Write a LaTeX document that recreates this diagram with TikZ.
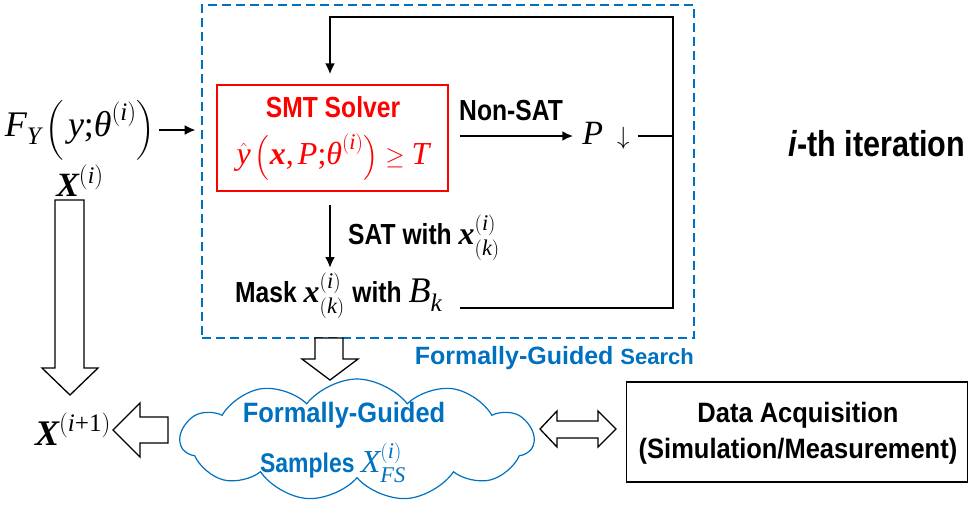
\documentclass[tikz,border=0pt]{standalone}
\usepackage{amsmath}
\usepackage{fontspec}
\newfontfamily\sfc[FakeStretch=0.85]{Liberation Sans}
\newfontfamily\sfw[FakeStretch=0.91]{Liberation Sans}
\newfontfamily\sfn{Liberation Sans}
\newfontfamily\tms{Liberation Serif}
% Times-style letters inside formulas
\newcommand{\tv}[1]{\text{\tms\mdseries\itshape #1}}
\newcommand{\tb}[1]{\text{\tms\bfseries\itshape #1}}
\newcommand{\tu}[1]{\text{\tms\mdseries\upshape #1}}
\usetikzlibrary{shapes.symbols,arrows.meta,calc}
\definecolor{fgblue}{RGB}{0,112,192}
\definecolor{solred}{RGB}{255,0,0}
\tikzset{
  lbl/.style={inner sep=0pt, font=\sfc\bfseries\fontsize{29}{34}\selectfont},
  mth/.style={inner sep=0pt},
  flow/.style={line width=2.2pt, -{Latex[length=11pt,width=10pt]}},
  plain/.style={line width=2.2pt},
  hollow/.style={draw, line width=1.3pt, fill=white, line join=miter},
}
\begin{document}
\begin{tikzpicture}[x=1pt,y=-1pt]
\useasboundingbox (0,0) rectangle (969,504);

% formally-guided search region
\node[draw=fgblue, line width=2.6pt, dash pattern=on 9pt off 5pt,
      minimum width=492pt, minimum height=333pt, inner sep=0pt] (search) at (448,171.5) {};
\node[anchor=east, inner sep=0pt, text=fgblue, font=\sfn\bfseries] (searchlbl) at (694,358)
  {\fontsize{25}{28}\selectfont Formally-Guided \fontsize{22}{28}\selectfont Search};

% SMT solver box
\node[draw=solred, line width=1.2pt, minimum width=231pt, minimum height=106pt, inner sep=0pt] (solver) at (332.5,138) {};
\node[lbl, text=solred] (smt) at (333,107) {SMT Solver};
\node[mth, text=solred, text height=16pt, text depth=8pt] (cond) at (333,160)
  {\fontsize{32}{34}\selectfont$\hat{\tv{y}}\left(\tb{x}\tu{,}\,\tv{P}\tu{;}\tv{θ}^{(\tv{i})}\right)\geq\tv{T}$};
\coordinate (entry) at ([xshift=-2.5pt]solver.north);

% non-SAT branch
\node[mth] (pd) at (606,136) {\fontsize{34}{38}\selectfont$\tv{P}\;\downarrow$};
\node[lbl] (nonsat) at (511,111) {Non-SAT};
\draw[flow, shorten <=11pt, shorten >=9pt] (solver.east |- pd) -- (pd.west);

% SAT branch
\node[lbl, anchor=west] (mask) at (235,296)
  {Mask \fontsize{32}{34}\selectfont$\tb{x}_{(\tv{k})}^{(\tv{i})}$ \fontsize{29}{34}\selectfont with \fontsize{36}{38}\selectfont$\tv{B}_{\tv{k}}$};
\node[lbl, anchor=west] (sat) at (348,238)
  {SAT with \fontsize{32}{34}\selectfont$\tb{x}_{(\tv{k})}^{(\tv{i})}$};
\draw[flow, shorten <=13pt] (entry |- solver.south) -- (entry |- 0,268);

% feedback loop
\coordinate (tr) at (673,17);
\coordinate (br) at (673,308);
\draw[plain, shorten <=8pt] (pd.east) -- (pd.east -| tr);
\draw[flow, shorten <=18pt, shorten >=10pt] (mask.east |- br) -- (br) -- (tr) -- (tr -| entry) -- (entry);

% inputs on the left
\node[mth] (fy) at (80,130) {\fontsize{36}{44}\selectfont$\tv{F}_{\tv{Y}}\left(\,\tv{y}\tu{;}\tv{θ}^{(\tv{i})}\right)$};
\node[mth] (xi) at (80,181) {\fontsize{34}{38}\selectfont$\tb{X}^{(\tv{i})}$};
\draw[flow, shorten <=4pt, shorten >=5pt] (fy.east) -- (fy.east -| search.west);
\node[mth] (xnext) at (73,429) {\fontsize{36}{38}\selectfont$\tb{X}^{(\tv{i}\tu{+1})}$};

% samples cloud
\node[cloud, cloud puffs=11, cloud puff arc=105, aspect=3, draw=fgblue, line width=1.2pt,
      minimum width=353pt, minimum height=122pt, inner sep=0pt] (cloud) at (357,440) {};
\node[lbl, text=fgblue, font=\sfw\bfseries\fontsize{28}{34}\selectfont] (cl1) at (344,415) {Formally-Guided};
\node[lbl, text=fgblue, font=\sfc\bfseries\fontsize{27}{34}\selectfont] (cl2) at (333,463)
  {Samples \fontsize{32}{34}\selectfont$\tv{X}_{\tv{FS}}^{(\tv{i})}$};

% data acquisition
\node[draw, line width=1.2pt, minimum width=341pt, minimum height=100pt, inner sep=0pt] (daq) at (797,432) {};
\node[lbl, font=\sfw\bfseries\fontsize{28}{34}\selectfont] (daq1) at (798,415) {Data Acquisition};
\node[lbl, font=\sfw\bfseries\fontsize{28}{34}\selectfont] (daq2) at (798,451) {(Simulation/Measurement)};

% iteration label
\node[inner sep=0pt, font=\sfc\bfseries\fontsize{36}{40}\selectfont] (iter) at (877,144) {\itshape i\upshape-th iteration};

% block arrows
\draw[hollow] (55,200) -- (84,200) -- (84,368) -- (98,368) -- (70,395) -- (42,368) -- (55,368) -- cycle;
\draw[hollow] (315,338) -- (343,338) -- (343,359) -- (358,359) -- (330,380) -- (302,359) -- (315,359) -- cycle;
\draw[hollow] (168,417) -- (140,417) -- (140,403) -- (113,430) -- (140,457) -- (140,443) -- (168,443) -- cycle;
\draw[hollow] (540,429) -- (557,411) -- (557,421) -- (598,421) -- (598,411) -- (616,429)
  -- (598,447) -- (598,438) -- (557,438) -- (557,447) -- cycle;
\end{tikzpicture}
\end{document}
